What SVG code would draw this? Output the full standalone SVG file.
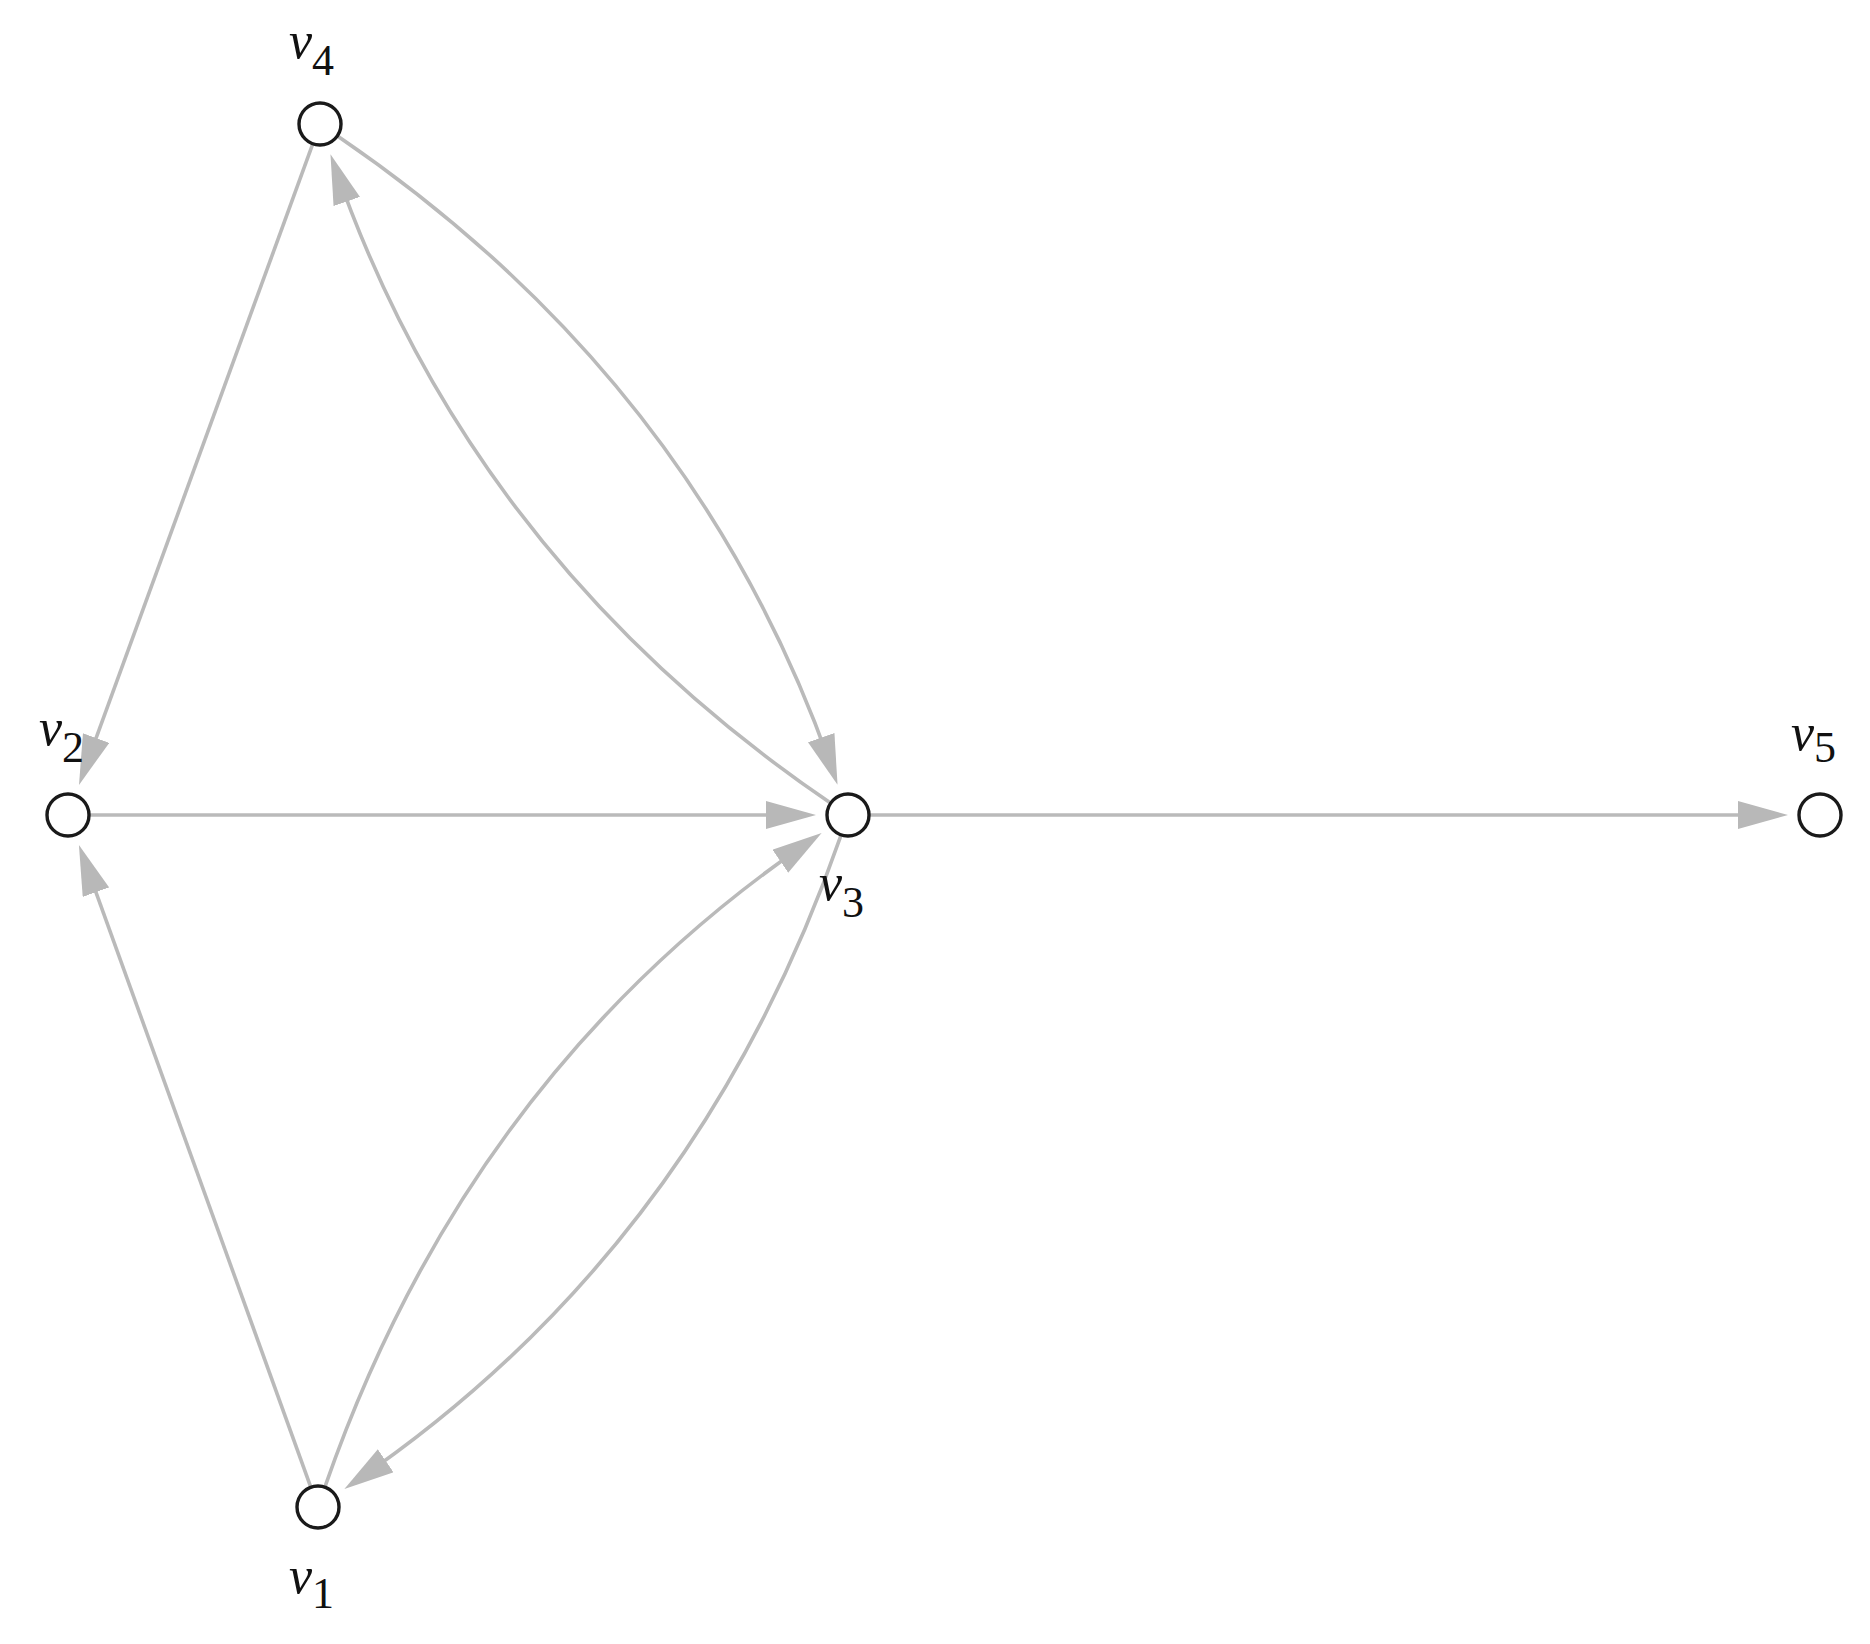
<svg xmlns="http://www.w3.org/2000/svg" width="1870" height="1644" viewBox="0 0 1870 1644">
<style>
.edge{fill:none;stroke:#bababa;stroke-width:3.6;marker-end:url(#ah)}
.node{fill:#fff;stroke:#1a1a1a;stroke-width:3.4}
.lbl{font-family:"Liberation Serif","DejaVu Serif",serif;font-style:italic;font-size:52px;fill:#111}
.sub{font-style:normal;font-size:44px}
</style>
<defs>
<marker id="ah" markerUnits="userSpaceOnUse" viewBox="0 0 50 28" markerWidth="50" markerHeight="28" refX="38" refY="14" orient="auto">
<path d="M0,0 L50,14 L0,28 z" fill="#b8b8b8"/>
</marker>
</defs>
<rect width="1870" height="1644" fill="#fff"/>
<g id="connectors">
<path class="edge" d="M90,815 L804,815"/>
<path class="edge" d="M870,815 L1776,815"/>
<path class="edge" d="M312.5,144.7 L83.1,773.7"/>
<path class="edge" d="M310.5,1486.3 L83,856.4"/>
<path class="edge" d="M338.2,136.4 Q698.4,382.1 833.6,773.5"/>
<path class="edge" d="M829.8,802.6 Q469.6,556.9 334.4,165.6"/>
<path class="edge" d="M325.2,1486.2 Q468.7,1073.4 811.7,839.8"/>
<path class="edge" d="M840.8,835.8 Q697.3,1248.6 354.3,1482.2"/>
</g>
<g id="v1"><circle class="node" cx="318" cy="1507" r="21"/><text class="lbl" x="289" y="1593">v<tspan class="sub" dy="15">1</tspan></text></g>
<g id="v2"><circle class="node" cx="68" cy="815" r="21"/><text class="lbl" x="39" y="745">v<tspan class="sub" dy="17">2</tspan></text></g>
<g id="v3"><circle class="node" cx="848" cy="815" r="21"/><text class="lbl" x="819" y="900">v<tspan class="sub" dy="17">3</tspan></text></g>
<g id="v4"><circle class="node" cx="320" cy="124" r="21"/><text class="lbl" x="289" y="58">v<tspan class="sub" dy="17">4</tspan></text></g>
<g id="v5"><circle class="node" cx="1820" cy="815" r="21"/><text class="lbl" x="1791" y="750">v<tspan class="sub" dy="12">5</tspan></text></g>
</svg>
